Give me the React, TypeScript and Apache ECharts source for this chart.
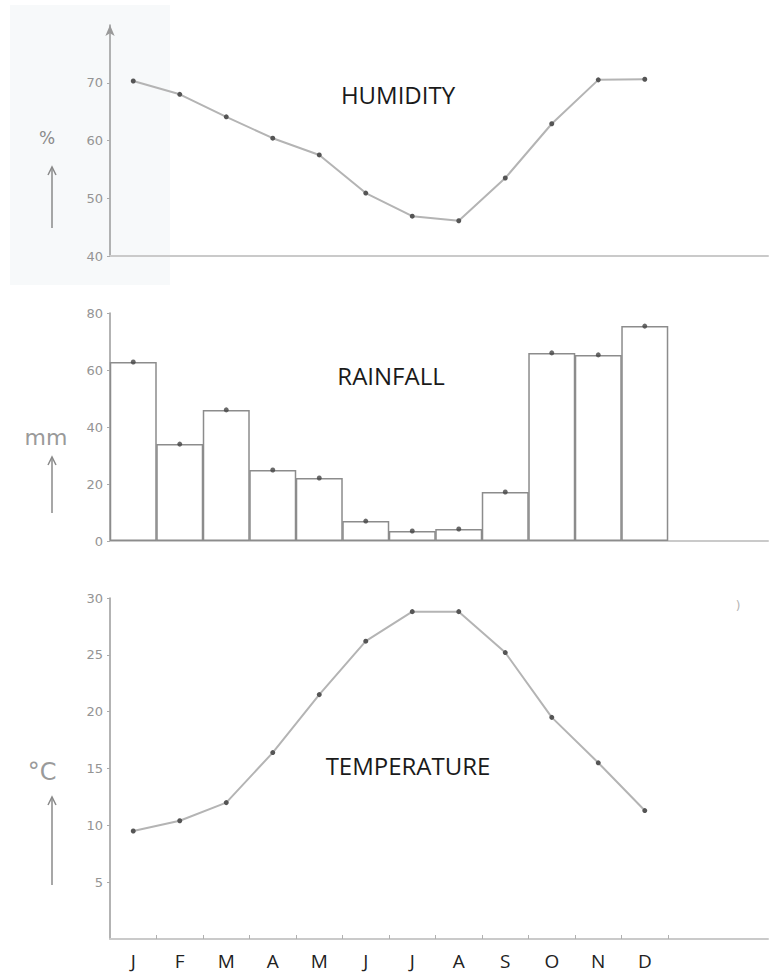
import React, { useEffect, useRef } from "react";
import * as echarts from "echarts";

const MONTHS = ["J", "F", "M", "A", "M", "J", "J", "A", "S", "O", "N", "D"];
const HUMIDITY = [70.3, 68.0, 64.1, 60.4, 57.5, 50.9, 46.9, 46.1, 53.5, 62.9, 70.5, 70.6];
const RAINFALL = [62.8, 34.0, 46.0, 24.9, 22.1, 7.0, 3.5, 4.2, 17.2, 66.0, 65.3, 75.4];
const TEMPERATURE = [9.5, 10.4, 12.0, 16.4, 21.5, 26.2, 28.8, 28.8, 25.2, 19.5, 15.5, 11.3];
const HUMIDITY_TICKS = [40, 50, 60, 70];
const TEMPERATURE_TICKS = [5, 10, 15, 20, 25, 30];
const TITLES = ["HUMIDITY", "RAINFALL", "TEMPERATURE"];
const UNITS = ["%", "mm", "°C"];

const toPoints = (arr: number[]) => arr.map((v, i) => [i + 0.5, v]);
const monthCenters = MONTHS.map((_, i) => i + 0.5);
const monthBounds = MONTHS.map((_, i) => i + 1);

const AXIS_FONT = { color: "#949494", fontSize: 13, fontFamily: "DejaVu Sans", margin: 7 };

function arrow(x: number, yTop: number, yBottom: number) {
  return [
    { type: "line", shape: { x1: x, y1: yBottom, x2: x, y2: yTop }, style: { stroke: "#8a8a8a", lineWidth: 1.5 } },
    {
      type: "polyline",
      shape: { points: [[x - 4, yTop + 8], [x, yTop], [x + 4, yTop + 8]] },
      style: { stroke: "#8a8a8a", fill: null, lineWidth: 1.5 },
    },
  ];
}

export default function App() {
  const ref = useRef<HTMLDivElement>(null);
  useEffect(() => {
    if (!ref.current) return;
    const chart = echarts.init(ref.current, null, { renderer: "svg" });
    const xAxis = [0, 1, 2].map((i) => ({
      type: "value",
      gridIndex: i,
      min: 0,
      max: 14.15,
      splitLine: { show: false },
      axisLine: { show: true, onZero: false, lineStyle: { color: "#cacaca", width: 2 } },
      axisTick: {
        show: i === 2,
        inside: true,
        length: 4,
        customValues: monthBounds,
        lineStyle: { color: "#b0b0b0", width: 1 },
      },
      axisLabel: {
        show: i === 2,
        customValues: monthCenters,
        formatter: (v: number) => MONTHS[Math.floor(v)] ?? "",
        color: "#222",
        fontSize: 19,
        fontFamily: "Open Sans",
        margin: 12,
      },
    }));
    const yLine = { show: true, onZero: false, lineStyle: { color: "#9a9a9a", width: 1.5 } };
    const yTick = { show: true, length: 3, lineStyle: { color: "#aaa" } };
    const option = {
      animation: false,
      grid: [
        { left: 110, top: 25, width: 658, height: 231 },
        { left: 110, top: 313, width: 658, height: 228 },
        { left: 110, top: 598, width: 658, height: 341 },
      ],
      xAxis,
      yAxis: [
        {
          type: "value",
          gridIndex: 0,
          min: 40,
          max: 80,
          interval: 10,
          splitLine: { show: false },
          axisLine: { ...yLine, symbol: ["none", "arrow"], symbolSize: [7, 11] },
          axisTick: { ...yTick, customValues: HUMIDITY_TICKS },
          axisLabel: { ...AXIS_FONT, customValues: HUMIDITY_TICKS },
        },
        {
          type: "value",
          gridIndex: 1,
          min: 0,
          max: 80,
          interval: 20,
          splitLine: { show: false },
          axisLine: yLine,
          axisTick: yTick,
          axisLabel: AXIS_FONT,
        },
        {
          type: "value",
          gridIndex: 2,
          min: 0,
          max: 30,
          interval: 5,
          splitLine: { show: false },
          axisLine: yLine,
          axisTick: { ...yTick, customValues: TEMPERATURE_TICKS },
          axisLabel: { ...AXIS_FONT, customValues: TEMPERATURE_TICKS },
        },
      ],
      series: [
        {
          type: "line",
          xAxisIndex: 0,
          yAxisIndex: 0,
          data: toPoints(HUMIDITY),
          symbol: "circle",
          symbolSize: 5,
          lineStyle: { color: "#b4b4b4", width: 2 },
          itemStyle: { color: "#555" },
          z: 3,
        },
        {
          type: "bar",
          xAxisIndex: 1,
          yAxisIndex: 1,
          data: toPoints(RAINFALL),
          barWidth: 47,
          itemStyle: { color: "#ffffff", borderColor: "#8c8c8c", borderWidth: 1.5 },
        },
        {
          type: "scatter",
          xAxisIndex: 1,
          yAxisIndex: 1,
          data: toPoints(RAINFALL),
          symbolSize: 5,
          itemStyle: { color: "#444" },
          z: 4,
        },
        {
          type: "line",
          xAxisIndex: 2,
          yAxisIndex: 2,
          data: toPoints(TEMPERATURE),
          symbol: "circle",
          symbolSize: 5,
          lineStyle: { color: "#b4b4b4", width: 2 },
          itemStyle: { color: "#555" },
          z: 3,
        },
      ],
      graphic: [
        { type: "rect", z: -10, shape: { x: 10, y: 5, width: 160, height: 280 }, style: { fill: "#f7f9fa" }, silent: true },
        {
          type: "text",
          x: 398,
          y: 94,
          style: { text: TITLES[0], fill: "#1a1a1a", fontSize: 24, fontFamily: "Open Sans", align: "center", verticalAlign: "middle" },
        },
        {
          type: "text",
          x: 391,
          y: 375,
          style: { text: TITLES[1], fill: "#1a1a1a", fontSize: 24, fontFamily: "Open Sans", align: "center", verticalAlign: "middle" },
        },
        {
          type: "text",
          x: 408,
          y: 765,
          style: { text: TITLES[2], fill: "#1a1a1a", fontSize: 24, fontFamily: "Open Sans", align: "center", verticalAlign: "middle" },
        },
        {
          type: "text",
          x: 47,
          y: 138,
          style: { text: UNITS[0], fill: "#8a8a8a", fontSize: 17, fontFamily: "DejaVu Sans", align: "center", verticalAlign: "middle" },
        },
        {
          type: "text",
          x: 46,
          y: 437,
          style: { text: UNITS[1], fill: "#9a9a9a", fontSize: 22, fontFamily: "DejaVu Sans", align: "center", verticalAlign: "middle" },
        },
        {
          type: "text",
          x: 42,
          y: 772,
          style: { text: UNITS[2], fill: "#9a9a9a", fontSize: 24, fontFamily: "DejaVu Sans", align: "center", verticalAlign: "middle" },
        },
        ...arrow(52, 167, 228),
        ...arrow(52, 457, 513),
        ...arrow(52, 797, 885),
        {
          type: "text",
          x: 738,
          y: 606,
          style: { text: ")", fill: "#b5b5b5", fontSize: 12, fontFamily: "DejaVu Sans", align: "center", verticalAlign: "middle" },
        },
      ],
    };
    chart.setOption(option as any);
    return () => chart.dispose();
  }, []);
  return (
    <div
      ref={ref}
      style={{ position: "absolute", left: 0, top: 0, width: 770, height: 977, background: "#fff" }}
    />
  );
}
